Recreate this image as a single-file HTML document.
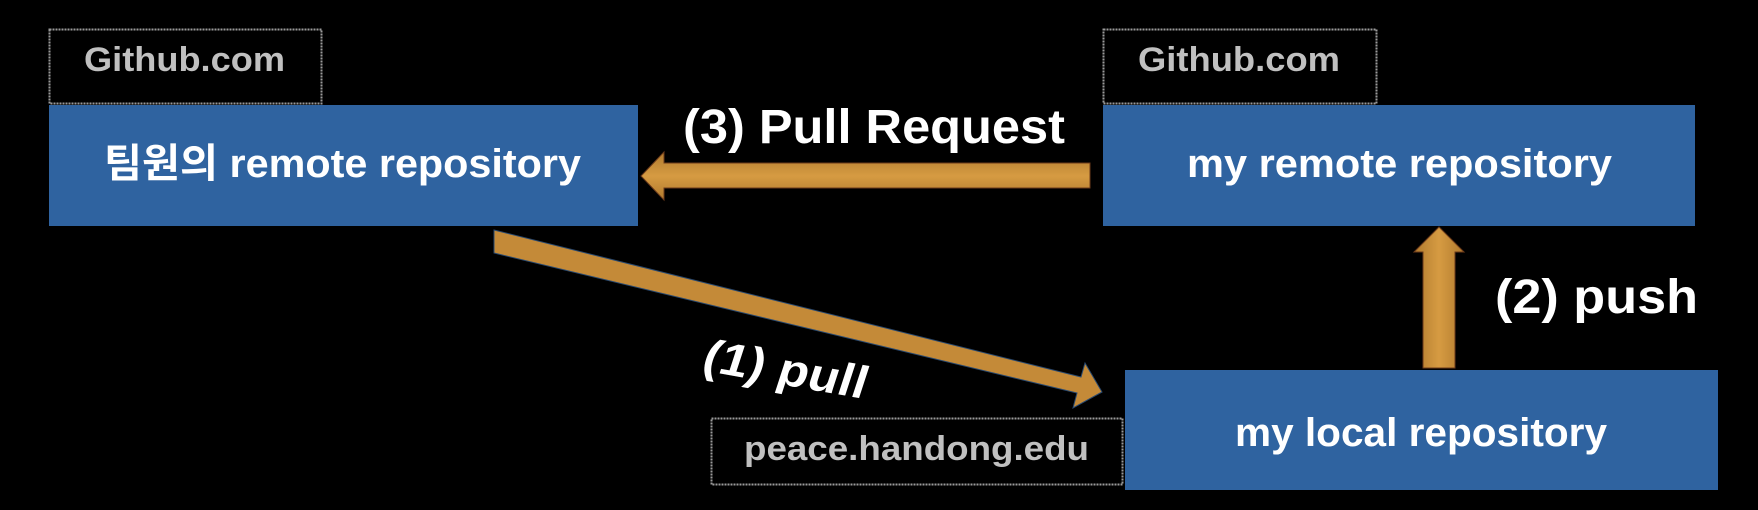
<!DOCTYPE html>
<html><head><meta charset="utf-8"><style>
html,body{margin:0;padding:0;background:#000;width:1758px;height:510px;overflow:hidden}
svg{display:block}
text{font-family:"Liberation Sans","Noto Sans CJK KR",sans-serif}
</style></head><body>
<svg width="1758" height="510" viewBox="0 0 1758 510" xmlns="http://www.w3.org/2000/svg">
<defs>
<linearGradient id="gh" x1="0" y1="0" x2="0" y2="1"><stop offset="0" stop-color="#b07a2e"/><stop offset="0.5" stop-color="#d69b42"/><stop offset="1" stop-color="#b07a2e"/></linearGradient>
<linearGradient id="gv" x1="0" y1="0" x2="1" y2="0"><stop offset="0" stop-color="#b07a2e"/><stop offset="0.5" stop-color="#d69b42"/><stop offset="1" stop-color="#b07a2e"/></linearGradient>
</defs>
<!-- Github boxes -->
<rect x="49.5" y="29.5" width="272" height="74" fill="none" stroke="#9a9a9a" stroke-width="2" stroke-dasharray="2 1"/>
<text x="84" y="71" font-size="34" font-weight="bold" fill="#c0c0c0" textLength="201" lengthAdjust="spacingAndGlyphs">Github.com</text>
<rect x="1103.5" y="29.5" width="273" height="74" fill="none" stroke="#9a9a9a" stroke-width="2" stroke-dasharray="2 1"/>
<text x="1138" y="71" font-size="34" font-weight="bold" fill="#c0c0c0" textLength="202" lengthAdjust="spacingAndGlyphs">Github.com</text>
<rect x="711.5" y="418.5" width="411" height="66" fill="none" stroke="#9a9a9a" stroke-width="2" stroke-dasharray="2 1"/>
<text x="744" y="460" font-size="34" font-weight="bold" fill="#c0c0c0" textLength="345" lengthAdjust="spacingAndGlyphs">peace.handong.edu</text>
<!-- blue boxes -->
<rect x="49" y="105" width="589" height="121" fill="#2f63a0"/>
<text x="104" y="177" font-size="40" font-weight="bold" fill="#fff" textLength="477" lengthAdjust="spacingAndGlyphs">팀원의 remote repository</text>
<rect x="1103" y="105" width="592" height="121" fill="#2f63a0"/>
<text x="1187" y="177" font-size="40" font-weight="bold" fill="#fff" textLength="425" lengthAdjust="spacingAndGlyphs">my remote repository</text>
<rect x="1125" y="370" width="593" height="120" fill="#2f63a0"/>
<text x="1235" y="446" font-size="40" font-weight="bold" fill="#fff" textLength="372" lengthAdjust="spacingAndGlyphs">my local repository</text>
<!-- PR arrow -->
<polygon points="1090,163 664,163 664,152 641,176 664,200 664,188 1090,188" fill="url(#gh)" stroke="#6b3a1a" stroke-width="1"/>
<!-- push arrow -->
<polygon points="1423,368 1423,252 1414,252 1439,227 1464,252 1455,252 1455,368" fill="url(#gv)" stroke="#6b3a1a" stroke-width="1"/>
<!-- pull diagonal arrow -->
<polygon points="494,230 1081,377 1085,363 1102,392 1073,408 1077,393 494,253" fill="#c48a38" stroke="#2a4a70" stroke-width="1"/>
<!-- labels -->
<text x="683" y="143" font-size="48" font-weight="bold" fill="#fff" textLength="382" lengthAdjust="spacingAndGlyphs">(3) Pull Request</text>
<text x="1495" y="313" font-size="48" font-weight="bold" fill="#fff" textLength="203" lengthAdjust="spacingAndGlyphs">(2) push</text>
<text transform="translate(700,370) rotate(10) skewX(-8)" font-size="46" font-weight="bold" fill="#fff" textLength="165" lengthAdjust="spacingAndGlyphs">(1) pull</text>
</svg>
</body></html>
